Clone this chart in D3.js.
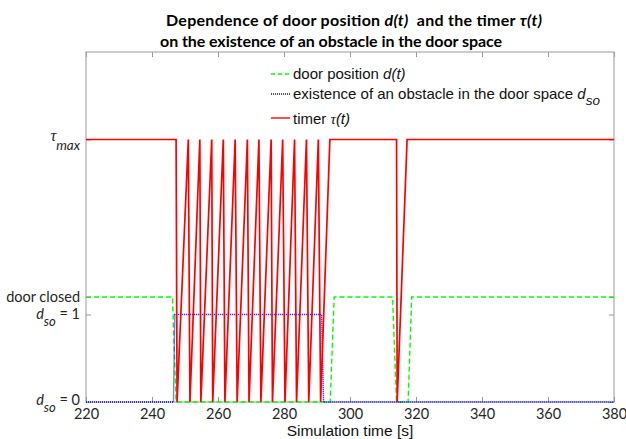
<!DOCTYPE html>
<html>
<head>
<meta charset="utf-8">
<script src="https://cdn.jsdelivr.net/npm/d3@7"></script>
<style>
  body { margin: 0; background: #fff; }
  svg { display: block; }
</style>
</head>
<body>
<div id="chart"></div>
<script>
// time axis ticks
const xTicks = [220, 240, 260, 280, 300, 320, 340, 360, 380];

// timer tau(t): [time, value], tau_max = 3
const timerT = [220, 247.3, 247.6, 251.0, 251.5, 254.5, 254.8, 258.1, 258.4, 261.6, 262.1, 265.2, 265.8,
  268.9, 269.4, 272.4, 273.0, 276.1, 276.5, 279.6, 280.3, 283.2, 283.8, 286.8, 287.5, 290.4, 291.1,
  293.9, 314.1, 314.3, 317.3, 380];
const timerV = [3, 3, 0, 3, 0, 3, 0, 3, 0, 3, 0, 3, 0,
  3, 0, 3, 0, 3, 0, 3, 0, 3, 0, 3, 0, 3, 0,
  3, 3, 0, 3, 3];

// door position d(t), closed = 1.2
const doorT = [220, 246.2, 247.3, 294.0, 295.2, 312.9, 314.1, 317.6, 318.7, 380];
const doorV = [1.2, 1.2, 0, 0, 1.2, 1.2, 0, 0, 1.2, 1.2];

// obstacle d_so
const obstT = [220, 246.5, 246.9, 291.4, 292.0, 380];
const obstV = [0, 0, 1, 1, 0, 0];

const W = 626, H = 439;
const x = d3.scaleLinear().domain([220, 380]).range([86, 614]);
const y = d3.scaleLinear().domain([0, 4]).range([402, 52]);

const svg = d3.select("#chart").append("svg")
  .attr("width", W).attr("height", H)
  .style("background", "#fff");

const axisCol = "#9a9a9a";
const labCol = "#262626";

// frame
svg.append("rect")
  .attr("x", x(220)).attr("y", y(4))
  .attr("width", x(380) - x(220)).attr("height", y(0) - y(4))
  .attr("fill", "none").attr("stroke", axisCol).attr("stroke-width", 1);

const styleAxis = g => {
  g.selectAll(".domain").remove();
  g.selectAll(".tick line").attr("stroke", axisCol);
};

svg.append("g")
  .attr("transform", `translate(0,${y(0)})`)
  .call(d3.axisBottom(x).tickValues(xTicks).tickSize(-5).tickPadding(7))
  .call(styleAxis)
  .call(g => g.selectAll(".tick text")
    .attr("fill", labCol).style("font-family", "Lato, sans-serif").style("font-size", "14.5px"));

svg.append("g")
  .attr("transform", `translate(0,${y(4)})`)
  .call(d3.axisTop(x).tickValues(xTicks).tickSize(-5).tickFormat(""))
  .call(styleAxis);

const yTicks = [0, 1, 1.2, 3];
svg.append("g")
  .attr("transform", `translate(${x(220)},0)`)
  .call(d3.axisLeft(y).tickValues(yTicks).tickSize(-5).tickFormat(""))
  .call(styleAxis);
svg.append("g")
  .attr("transform", `translate(${x(380)},0)`)
  .call(d3.axisRight(y).tickValues(yTicks).tickSize(-5).tickFormat(""))
  .call(styleAxis);

// y tick labels (rich text)
const yl = svg.append("g")
  .style("font-family", "Lato, sans-serif").style("font-size", "14.5px")
  .attr("fill", labCol).attr("text-anchor", "end");
const lx = x(220) - 6;

const tmax = yl.append("text").attr("x", lx).attr("y", y(3) + 1);
tmax.append("tspan").style("font-style", "italic").style("font-family", "Liberation Serif, serif")
  .style("font-size", "16px").text("τ");
tmax.append("tspan").attr("dy", 9).style("font-style", "italic").style("font-size", "13.5px").text("max");

yl.append("text").attr("x", lx).attr("y", y(1.2) + 5).text("door closed");

[1, 0].forEach(v => {
  const t = yl.append("text").attr("x", lx).attr("y", y(v) + (v === 1 ? 4 : 3));
  t.append("tspan").style("font-style", "italic").text("d");
  t.append("tspan").attr("dy", 7).style("font-style", "italic").style("font-size", "13px").text("so");
  t.append("tspan").attr("dy", -7).text(" = " + v);
});

// x-axis title
svg.append("text")
  .attr("x", x(300)).attr("y", 436)
  .attr("text-anchor", "middle")
  .style("font-family", "Liberation Sans, Arial, sans-serif").style("font-size", "15.5px")
  .attr("fill", "#111")
  .text("Simulation time [s]");

// title
const tg = svg.append("g")
  .style("font-family", "Lato, sans-serif").style("font-weight", "bold").style("font-size", "16px")
  .attr("fill", "#000");
const t1 = tg.append("text").attr("x", 166).attr("y", 26).attr("textLength", 376);
t1.append("tspan").text("Dependence of door position ");
t1.append("tspan").style("font-style", "italic").text("d(t)");
t1.append("tspan").attr("xml:space", "preserve").text("  and the timer ");
t1.append("tspan").style("font-style", "italic").text("τ(t)");
tg.append("text").attr("x", 160).attr("y", 47).attr("textLength", 342)
  .text("on the existence of an obstacle in the door space");

// series
const line = d3.line().x(d => x(d[0])).y(d => y(d[1]));
const zipS = (ts, vs) => ts.map((t, i) => [t, vs[i]]);

svg.append("path").datum(zipS(doorT, doorV))
  .attr("d", line).attr("fill", "none")
  .attr("stroke", "#00ff00").attr("stroke-width", 1.4).attr("stroke-dasharray", "5,3");

svg.append("path").datum(zipS(obstT, obstV))
  .attr("d", line).attr("fill", "none")
  .attr("stroke", "#0000ff").attr("stroke-width", 1.4).attr("stroke-dasharray", "1,1");

svg.append("path").datum(zipS(timerT, timerV))
  .attr("d", line).attr("fill", "none")
  .attr("stroke", "#ff0000").attr("stroke-width", 1.7);

// legend
const lg = svg.append("g")
  .style("font-family", "Liberation Sans, Arial, sans-serif").style("font-size", "15px")
  .attr("fill", "#111");
const rows = [
  { y: 74, col: "#00ff00", dash: "4,3" },
  { y: 94, col: "#0000ff", dash: "1,1" },
  { y: 118, col: "#ff0000", dash: null }
];
rows.forEach(r => {
  lg.append("line").attr("x1", 271).attr("x2", 290).attr("y1", r.y).attr("y2", r.y)
    .attr("stroke", r.col).attr("stroke-width", 1.4)
    .attr("stroke-dasharray", r.dash);
});
const l1 = lg.append("text").attr("x", 293).attr("y", 79);
l1.append("tspan").text("door position ");
l1.append("tspan").style("font-style", "italic").text("d(t)");
const l2 = lg.append("text").attr("x", 293).attr("y", 99);
l2.append("tspan").text("existence of an obstacle in the door space ");
l2.append("tspan").style("font-style", "italic").text("d");
l2.append("tspan").attr("dy", 6).style("font-style", "italic").style("font-size", "13.5px").text("so");
const l3 = lg.append("text").attr("x", 293).attr("y", 124);
l3.append("tspan").text("timer ");
l3.append("tspan").style("font-style", "italic").style("font-family", "Liberation Serif, serif").text("τ");
l3.append("tspan").style("font-style", "italic").text("(t)");
</script>
</body>
</html>
